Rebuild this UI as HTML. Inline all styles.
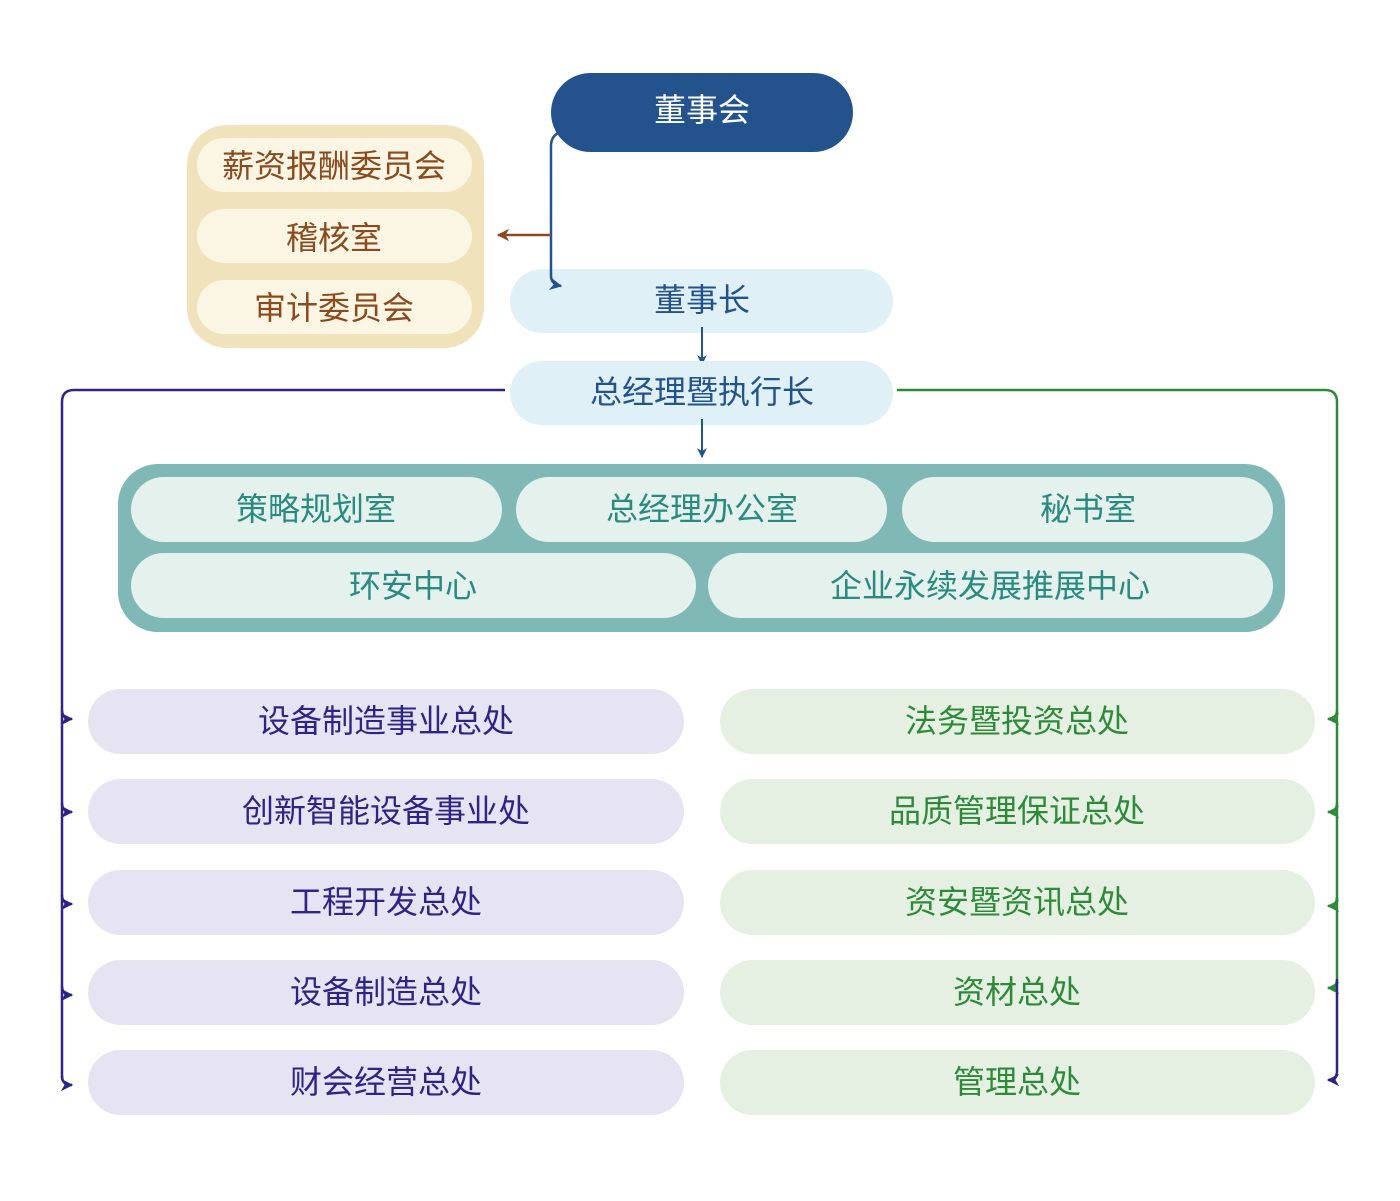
<!DOCTYPE html>
<html><head><meta charset="utf-8"><style>
html,body{margin:0;padding:0;background:#fff}
svg text{font-family:"Liberation Sans","Noto Sans CJK SC",sans-serif;font-size:32px;text-anchor:middle;dominant-baseline:central}
</style></head><body>
<svg width="1400" height="1196" viewBox="0 0 1400 1196" xmlns="http://www.w3.org/2000/svg">
<defs>
<marker id="ab" viewBox="0 0 10 10" refX="9" refY="5" markerWidth="5" markerHeight="5" orient="auto"><path d="M0,0 L10,5 L0,10 L3,5z" fill="#24528c"/></marker>
<marker id="abr" viewBox="0 0 10 10" refX="9" refY="5" markerWidth="5" markerHeight="5" orient="auto"><path d="M0,0 L10,5 L0,10 L3,5z" fill="#8a4a1e"/></marker>
<marker id="ap" viewBox="0 0 10 10" refX="9" refY="5" markerWidth="5" markerHeight="5" orient="auto"><path d="M0,0 L10,5 L0,10 L3,5z" fill="#2e2484"/></marker>
<marker id="ag" viewBox="0 0 10 10" refX="9" refY="5" markerWidth="5" markerHeight="5" orient="auto"><path d="M0,0 L10,5 L0,10 L3,5z" fill="#2e8a3a"/></marker>
</defs>
<!-- top -->
<rect x="551" y="73" width="302" height="79" rx="39.5" fill="#24528c"/>
<text x="702" y="110" fill="#fff">董事会</text>
<rect x="187" y="125" width="297" height="223" rx="40" fill="#f0e3bb"/>
<rect x="197" y="138" width="275" height="54" rx="27" fill="#fbf5e3"/>
<rect x="197" y="209" width="275" height="54" rx="27" fill="#fbf5e3"/>
<rect x="197" y="280" width="275" height="54" rx="27" fill="#fbf5e3"/>
<text x="334" y="166" fill="#8a4a1e">薪资报酬委员会</text>
<text x="334" y="238" fill="#8a4a1e">稽核室</text>
<text x="334" y="308" fill="#8a4a1e">审计委员会</text>
<rect x="510" y="269" width="383" height="64" rx="32" fill="#dff0f7"/>
<text x="702" y="300" fill="#24528c">董事长</text>
<path d="M558,133 Q551,137 551,146 L551,276 Q551,284 561,286" fill="none" stroke="#24528c" stroke-width="2.5" marker-end="url(#ab)"/>
<path d="M551,235 L498,235" stroke="#8a4a1e" stroke-width="2.5" marker-end="url(#abr)"/>
<path d="M702,327 L702,364" stroke="#24528c" stroke-width="2" marker-end="url(#ab)"/>
<rect x="510" y="361" width="383" height="64" rx="32" fill="#dff0f7"/>
<text x="702" y="392" fill="#24528c">总经理暨执行长</text>
<path d="M702,419 L702,457" stroke="#24528c" stroke-width="2" marker-end="url(#ab)"/>
<!-- teal group -->
<rect x="118" y="464" width="1167" height="168" rx="40" fill="#7fb8b4"/>
<g fill="#e4f1ec">
<rect x="131" y="477" width="371" height="65" rx="32.5"/>
<rect x="516" y="477" width="371" height="65" rx="32.5"/>
<rect x="902" y="477" width="371" height="65" rx="32.5"/>
<rect x="131" y="553" width="565" height="65" rx="32.5"/>
<rect x="708" y="553" width="565" height="65" rx="32.5"/>
</g>
<g fill="#2a8a80">
<text x="316" y="509">策略规划室</text>
<text x="702" y="509">总经理办公室</text>
<text x="1088" y="509">秘书室</text>
<text x="413" y="586">环安中心</text>
<text x="990" y="586">企业永续发展推展中心</text>
</g>
<!-- left line -->
<g fill="none" stroke="#2e2484" stroke-width="2.5">
<path d="M505,390 L74,390 Q62,390 62,402 L62,1078"/>
<path d="M62,710 Q62,719 72,719" marker-end="url(#ap)"/>
<path d="M62,803 Q62,812 72,812" marker-end="url(#ap)"/>
<path d="M62,895 Q62,904 72,904" marker-end="url(#ap)"/>
<path d="M62,986 Q62,995 72,995" marker-end="url(#ap)"/>
<path d="M62,1076 Q62,1085 72,1085" marker-end="url(#ap)"/>
</g>
<!-- right line -->
<g fill="none" stroke-width="2.5">
<path d="M897,390 L1325,390 Q1337,390 1337,402 L1337,979" stroke="#2e8a3a"/>
<path d="M1337,710 Q1337,719 1328,719" stroke="#2e8a3a" marker-end="url(#ag)"/>
<path d="M1337,803 Q1337,812 1328,812" stroke="#2e8a3a" marker-end="url(#ag)"/>
<path d="M1337,897 Q1337,906 1328,906" stroke="#2e8a3a" marker-end="url(#ag)"/>
<path d="M1337,979 Q1337,988 1328,988" stroke="#2e8a3a" marker-end="url(#ag)"/>
<path d="M1337,979 L1337,1071 Q1337,1080 1328,1080" stroke="#2e2484" marker-end="url(#ap)"/>
</g>
<!-- left pills -->
<g fill="#e6e4f2">
<rect x="88" y="689" width="596" height="65" rx="32.5"/>
<rect x="88" y="779" width="596" height="65" rx="32.5"/>
<rect x="88" y="870" width="596" height="65" rx="32.5"/>
<rect x="88" y="960" width="596" height="65" rx="32.5"/>
<rect x="88" y="1050" width="596" height="65" rx="32.5"/>
</g>
<g fill="#2e2484">
<text x="386" y="721">设备制造事业总处</text>
<text x="386" y="811">创新智能设备事业处</text>
<text x="386" y="902">工程开发总处</text>
<text x="386" y="992">设备制造总处</text>
<text x="386" y="1082">财会经营总处</text>
</g>
<g fill="#e5f0e2">
<rect x="720" y="689" width="595" height="65" rx="32.5"/>
<rect x="720" y="779" width="595" height="65" rx="32.5"/>
<rect x="720" y="870" width="595" height="65" rx="32.5"/>
<rect x="720" y="960" width="595" height="65" rx="32.5"/>
<rect x="720" y="1050" width="595" height="65" rx="32.5"/>
</g>
<g fill="#2e8a3a">
<text x="1017" y="721">法务暨投资总处</text>
<text x="1017" y="811">品质管理保证总处</text>
<text x="1017" y="902">资安暨资讯总处</text>
<text x="1017" y="992">资材总处</text>
<text x="1017" y="1082">管理总处</text>
</g>
</svg>
</body></html>
